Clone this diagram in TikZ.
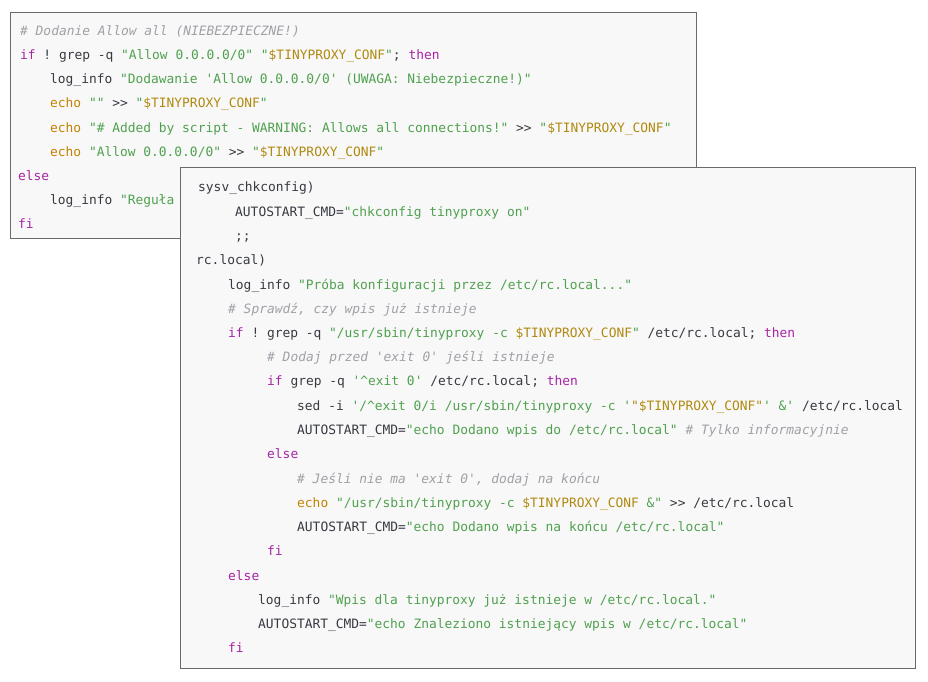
\documentclass[tikz,border=0pt]{standalone}
\usepackage{fontspec}
\setmonofont{DejaVu Sans Mono}
\definecolor{plain}{HTML}{383A42}
\definecolor{kwc}{HTML}{A626A4}
\definecolor{strc}{HTML}{50A14F}
\definecolor{bic}{HTML}{C18401}
\definecolor{varc}{HTML}{B08A10}
\definecolor{cmc}{HTML}{A0A1A7}
\definecolor{panelfill}{HTML}{F8F8F8}
\definecolor{panelline}{HTML}{6A6A6A}
\newcommand{\kw}[1]{\textcolor{kwc}{#1}}
\newcommand{\st}[1]{\textcolor{strc}{#1}}
\newcommand{\bi}[1]{\textcolor{bic}{#1}}
\newcommand{\va}[1]{\textcolor{varc}{#1}}
\newcommand{\cm}[1]{\textcolor{cmc}{\itshape #1}}
\newcommand{\TPC}{\va{\$TINYPROXY\_CONF}}
\tikzset{
  panel/.style={draw=panelline, fill=panelfill, line width=1.3pt, anchor=north west, inner sep=0pt},
  code/.style={anchor=base west, inner sep=0pt, text=plain, font=\ttfamily\fontsize{12.9}{15}\selectfont\frenchspacing}
}
\begin{document}
\begin{tikzpicture}[x=1pt,y=-1pt]
\useasboundingbox (0,0) rectangle (928,681);
\fill[white] (0,0) rectangle (928,681);
% first panel
\node[panel, minimum width=686pt, minimum height=226pt] (box1) at (10,12) {};
\node[code] (a1) at (20,35.5) {\cm{\# Dodanie Allow all (NIEBEZPIECZNE!)}};
\node[code] (a2) at (20,59.5) {\kw{if} ! grep -q \st{"Allow 0.0.0.0/0"} \st{"}\TPC\st{"}; \kw{then}};
\node[code] (a3) at (50,83.5) {log\_info \st{"Dodawanie 'Allow 0.0.0.0/0' (UWAGA: Niebezpieczne!)"}};
\node[code] (a4) at (50,107.5) {\bi{echo} \st{""} >> \st{"}\TPC\st{"}};
\node[code] (a5) at (50,132.5) {\bi{echo} \st{"\# Added by script - WARNING: Allows all connections!"} >> \st{"}\TPC\st{"}};
\node[code] (a6) at (50,156.5) {\bi{echo} \st{"Allow 0.0.0.0/0"} >> \st{"}\TPC\st{"}};
\node[code] (a7) at (18,180.5) {\kw{else}};
\node[code] (a8) at (50,204.5) {log\_info \st{"Reguła}};
\node[code] (a9) at (18,228.5) {\kw{fi}};
% second panel
\node[panel, minimum width=735pt, minimum height=501pt] (box2) at (180,167) {};
\node[code] (b1) at (198,191.5) {sysv\_chkconfig)};
\node[code] (b2) at (235,216.5) {AUTOSTART\_CMD=\st{"chkconfig tinyproxy on"}};
\node[code] (b3) at (235,240.5) {;;};
\node[code] (b4) at (196,264.5) {rc.local)};
\node[code] (b5) at (228,289.5) {log\_info \st{"Próba konfiguracji przez /etc/rc.local..."}};
\node[code] (b6) at (228,313.5) {\cm{\# Sprawdź, czy wpis już istnieje}};
\node[code] (b7) at (228,337.5) {\kw{if} ! grep -q \st{"/usr/sbin/tinyproxy -c }\TPC\st{"} /etc/rc.local; \kw{then}};
\node[code] (b8) at (267,361.5) {\cm{\# Dodaj przed 'exit 0' jeśli istnieje}};
\node[code] (b9) at (267,385.5) {\kw{if} grep -q \st{'\textasciicircum exit 0'} /etc/rc.local; \kw{then}};
\node[code] (b10) at (297,410.5) {sed -i \st{'/\textasciicircum exit 0/i /usr/sbin/tinyproxy -c '}\va{"\$TINYPROXY\_CONF"}\st{' \&'} /etc/rc.local};
\node[code] (b11) at (297,434.5) {AUTOSTART\_CMD=\st{"echo Dodano wpis do /etc/rc.local"} \cm{\# Tylko informacyjnie}};
\node[code] (b12) at (267,458.5) {\kw{else}};
\node[code] (b13) at (297,483.5) {\cm{\# Jeśli nie ma 'exit 0', dodaj na końcu}};
\node[code] (b14) at (297,507.5) {\bi{echo} \st{"/usr/sbin/tinyproxy -c }\TPC{}\st{\ \&"} >> /etc/rc.local};
\node[code] (b15) at (297,531.5) {AUTOSTART\_CMD=\st{"echo Dodano wpis na końcu /etc/rc.local"}};
\node[code] (b16) at (267,555.5) {\kw{fi}};
\node[code] (b17) at (228,580.5) {\kw{else}};
\node[code] (b18) at (258,604.5) {log\_info \st{"Wpis dla tinyproxy już istnieje w /etc/rc.local."}};
\node[code] (b19) at (258,628.5) {AUTOSTART\_CMD=\st{"echo Znaleziono istniejący wpis w /etc/rc.local"}};
\node[code] (b20) at (228,652.5) {\kw{fi}};
\end{tikzpicture}
\end{document}
